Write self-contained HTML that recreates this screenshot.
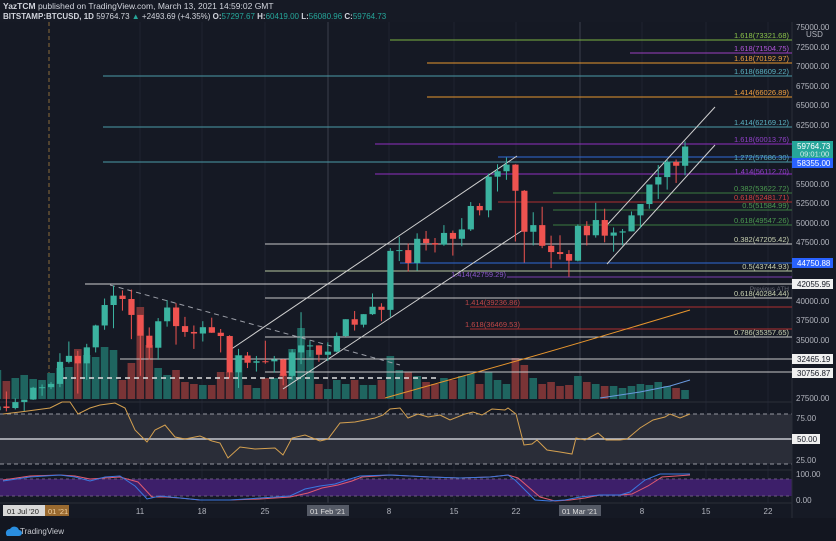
<!DOCTYPE html>
<html><head><meta charset="utf-8"><style>
body{margin:0;background:#161a25;width:836px;height:541px;overflow:hidden;font-family:"Liberation Sans",sans-serif}
svg{position:absolute;left:0;top:0}
</style></head><body>
<svg id="s" width="836" height="541" xmlns="http://www.w3.org/2000/svg" font-family="Liberation Sans, sans-serif">
<rect width="836" height="541" fill="#161a25"/>
<rect x="0" y="22" width="792" height="496" fill="#151924"/>
<!-- grid -->
<g stroke="#1f2330" stroke-width="1">
<line x1="140" y1="22" x2="140" y2="503"/><line x1="202" y1="22" x2="202" y2="503"/><line x1="265" y1="22" x2="265" y2="503"/><line x1="389" y1="22" x2="389" y2="503"/><line x1="454" y1="22" x2="454" y2="503"/><line x1="516" y1="22" x2="516" y2="503"/><line x1="642" y1="22" x2="642" y2="503"/><line x1="706" y1="22" x2="706" y2="503"/><line x1="768" y1="22" x2="768" y2="503"/>
</g>
<line x1="328" y1="22" x2="328" y2="503" stroke="#3a3f4c"/>
<line x1="580" y1="22" x2="580" y2="503" stroke="#3a3f4c"/>
<line x1="49" y1="22" x2="49" y2="400" stroke="#8a6a3a" stroke-dasharray="4,3"/>
<!-- panels -->
<line x1="0" y1="402" x2="792" y2="402" stroke="#2a2e39"/>
<rect x="0" y="414" width="792" height="50" fill="#2a2d38"/>
<line x1="0" y1="414" x2="792" y2="414" stroke="#9598a1" stroke-dasharray="4,3"/>
<line x1="0" y1="464" x2="792" y2="464" stroke="#9598a1" stroke-dasharray="4,3"/>
<line x1="0" y1="439" x2="792" y2="439" stroke="#c8cad0" stroke-width="1.5"/>
<line x1="0" y1="470" x2="792" y2="470" stroke="#2a2e39"/>
<rect x="0" y="479" width="792" height="17" fill="#3d1f6a"/>
<line x1="0" y1="479" x2="792" y2="479" stroke="#6a5a80" stroke-dasharray="3,3"/>
<line x1="0" y1="496" x2="792" y2="496" stroke="#6a5a80" stroke-dasharray="3,3"/>
<line x1="0" y1="503" x2="792" y2="503" stroke="#2a2e39"/>
<line x1="792" y1="22" x2="792" y2="518" stroke="#2a2e39"/>
<rect x="0" y="518" width="836" height="23" fill="#131620"/>
<g id="vol"></g>
<!-- horizontal levels -->
<g stroke-width="1">
<line x1="390" y1="40" x2="792" y2="40" stroke="#7cb342"/>
<line x1="630" y1="53" x2="792" y2="53" stroke="#9c3fc0"/>
<line x1="427" y1="63" x2="792" y2="63" stroke="#e8962e"/>
<line x1="103" y1="76" x2="792" y2="76" stroke="#4a9aa8"/>
<line x1="427" y1="97" x2="792" y2="97" stroke="#e8962e"/>
<line x1="103" y1="127" x2="792" y2="127" stroke="#4a9aa8"/>
<line x1="375" y1="144" x2="792" y2="144" stroke="#8e2fc0"/>
<line x1="498" y1="157" x2="792" y2="157" stroke="#2e6ad8"/>
<line x1="103" y1="162" x2="792" y2="162" stroke="#4a9aa8"/>
<line x1="375" y1="174" x2="792" y2="174" stroke="#8e2fc0"/>
<line x1="553" y1="193" x2="792" y2="193" stroke="#3c7a40"/>
<line x1="498" y1="202" x2="792" y2="202" stroke="#b03030"/>
<line x1="553" y1="210" x2="792" y2="210" stroke="#3c7a40"/>
<line x1="553" y1="225" x2="792" y2="225" stroke="#3c7a40"/>
<line x1="265" y1="244" x2="792" y2="244" stroke="#c8c8c8"/>
<line x1="400" y1="263" x2="792" y2="263" stroke="#2e6ad8"/>
<line x1="265" y1="271" x2="792" y2="271" stroke="#b8c8a0"/>
<line x1="507" y1="277" x2="792" y2="277" stroke="#7a3fb0"/>
<line x1="85" y1="284" x2="792" y2="284" stroke="#d0d0d0"/>
<line x1="265" y1="298" x2="792" y2="298" stroke="#c8c8c8"/>
<line x1="470" y1="307" x2="792" y2="307" stroke="#b03030"/>
<line x1="470" y1="329" x2="792" y2="329" stroke="#b03030"/>
<line x1="265" y1="337" x2="792" y2="337" stroke="#c8c8c8"/>
<line x1="120" y1="359" x2="792" y2="359" stroke="#c8c8c8"/>
<line x1="265" y1="372" x2="792" y2="372" stroke="#c8c8c8"/>
<line x1="62" y1="378" x2="440" y2="378" stroke="#e0e0e0" stroke-width="1.5" stroke-dasharray="5,4"/>
</g>
<!-- trend lines -->
<g stroke="#d0d0d0" stroke-width="1" fill="none">
<line x1="230" y1="350" x2="517" y2="156"/>
<line x1="283" y1="389" x2="523" y2="230"/>
<line x1="607" y1="225" x2="715" y2="107"/>
<line x1="607" y1="264" x2="715" y2="145"/>
<line x1="110" y1="285" x2="400" y2="365" stroke="#9a9da6" stroke-dasharray="5,4"/>
</g>
<path d="M385 398 Q450 380 520 360 T690 310" stroke="#e8962e" fill="none" stroke-width="1"/>
<polyline points="600,398 640,392 670,386 690,380" stroke="#6a9ae0" fill="none"/>
<g id="cnd"></g>
<!-- fib labels -->
<g font-size="7.5" text-anchor="end">
<text x="789" y="38" fill="#8bc34a">1.618(73321.68)</text>
<text x="789" y="51" fill="#b055d8">1.618(71504.75)</text>
<text x="789" y="61" fill="#f0a040">1.618(70192.97)</text>
<text x="789" y="74" fill="#5ab0c0">1.618(68609.22)</text>
<text x="789" y="95" fill="#f0a040">1.414(66026.89)</text>
<text x="789" y="125" fill="#5ab0c0">1.414(62169.12)</text>
<text x="789" y="142" fill="#9040c8">1.618(60013.76)</text>
<text x="789" y="160" fill="#5ab0c0">1.272(57686.30)</text>
<text x="789" y="174" fill="#9040c8">1.414(56112.70)</text>
<text x="789" y="191" fill="#4c9a50">0.382(53622.72)</text>
<text x="789" y="200" fill="#d04040">0.618(52481.71)</text>
<text x="789" y="208" fill="#4c9a50">0.5(51584.99)</text>
<text x="789" y="223" fill="#4c9a50">0.618(49547.26)</text>
<text x="789" y="242" fill="#c8d0b0">0.382(47205.42)</text>
<text x="789" y="269" fill="#c8d0b0">0.5(43744.93)</text>
<text x="789" y="291" fill="#6a6d78" font-size="6.5">Previous ATH</text>
<text x="789" y="296" fill="#c8d0b0">0.618(40284.44)</text>
<text x="789" y="335" fill="#c8d0b0">0.786(35357.65)</text>
<text x="520" y="305" fill="#c04848">1.414(39236.86)</text>
<text x="520" y="327" fill="#c04848">1.618(36469.53)</text>
<text x="506" y="277" fill="#8a55c8">1.414(42759.29)</text>
</g>
<!-- RSI -->
<polyline fill="none" stroke="#d4a050" stroke-width="1" points="3,414 20,412 50,408 62,402 70,402 78,414 90,408 100,405 115,403 125,408 135,430 147,442 155,430 165,425 175,437 185,439 200,436 212,441 220,443 228,458 240,447 255,449 275,448 283,455 292,438 305,435 320,441 328,439 340,423 355,422 365,420 375,418 383,415 390,409 400,408 408,418 418,414 428,417 440,415 450,420 465,414 473,412 482,415 492,409 505,410 508,408 516,414 524,445 532,444 537,440 547,450 560,452 572,454 576,438 585,440 598,433 606,440 620,440 627,439 640,428 653,420 665,417 670,414 680,418 690,414"/>
<polyline fill="none" stroke="#e05a70" stroke-width="1" points="3,480 30,476 60,475 75,476 90,479 105,478 120,477 138,482 152,497 165,497 180,498 200,500 230,500 260,499 290,497 308,493 322,488 338,485 352,481 362,477 390,475 430,477 460,478 490,477 508,475 518,478 540,497 555,501 570,500 585,498 600,495 620,495 632,494 648,486 662,477 690,475"/>
<polyline fill="none" stroke="#3a78e0" stroke-width="1" points="3,481 30,477 60,475 75,477 90,481 105,477 120,476 135,486 147,499 160,496 180,498 200,500 230,500 260,498 290,496 305,489 320,486 335,484 350,479 360,476 390,475 430,477 460,478 490,477 508,475 515,480 535,500 550,501 565,500 580,497 600,495 620,495 630,492 645,480 660,474 690,474"/>
<!-- right axis -->
<g font-size="8" fill="#b2b5be">
<text x="796" y="30">75000.00</text>
<text x="806" y="37">USD</text>
<text x="796" y="50">72500.00</text>
<text x="796" y="69">70000.00</text>
<text x="796" y="89">67500.00</text>
<text x="796" y="108">65000.00</text>
<text x="796" y="128">62500.00</text>
<text x="796" y="187">55000.00</text>
<text x="796" y="206">52500.00</text>
<text x="796" y="226">50000.00</text>
<text x="796" y="245">47500.00</text>
<text x="796" y="304">40000.00</text>
<text x="796" y="323">37500.00</text>
<text x="796" y="343">35000.00</text>
<text x="796" y="401">27500.00</text>
<text x="796" y="421">75.00</text>
<text x="796" y="463">25.00</text>
<text x="796" y="477">100.00</text>
<text x="796" y="503">0.00</text>
</g>
<rect x="792" y="141" width="41" height="17" fill="#26a69a"/>
<text x="797" y="149" font-size="8" fill="#fff">59764.73</text>
<text x="800" y="156.5" font-size="7.5" fill="#d8f0ec">09:01:00</text>
<rect x="792" y="158" width="41" height="10" fill="#2962ff"/>
<text x="797" y="166" font-size="8" fill="#fff">58355.00</text>
<rect x="792" y="258" width="41" height="10" fill="#2962ff"/>
<text x="797" y="266" font-size="8" fill="#fff">44750.88</text>
<g font-size="8" fill="#131722">
<rect x="792" y="279" width="41" height="10" fill="#f0f0f0"/><text x="797" y="287">42055.95</text>
<rect x="792" y="354" width="41" height="10" fill="#f0f0f0"/><text x="797" y="362">32465.19</text>
<rect x="792" y="368" width="41" height="10" fill="#f0f0f0"/><text x="797" y="376">30756.87</text>
<rect x="792" y="434" width="28" height="10" fill="#f0f0f0"/><text x="797" y="442">50.00</text>
</g>
<!-- date axis -->
<g font-size="8" fill="#b2b5be" text-anchor="middle">
<text x="140" y="514">11</text><text x="202" y="514">18</text><text x="265" y="514">25</text><text x="389" y="514">8</text><text x="454" y="514">15</text><text x="516" y="514">22</text><text x="642" y="514">8</text><text x="706" y="514">15</text><text x="768" y="514">22</text>
</g>
<rect x="3" y="505" width="42" height="11" fill="#d8d8d8"/>
<text x="7" y="514" font-size="7.5" fill="#222">01 Jul '20</text>
<rect x="45" y="505" width="24" height="11" fill="#9a6a30"/>
<text x="48" y="514" font-size="7.5" fill="#f0d0a0">01 '21</text>
<rect x="307" y="505" width="42" height="11" fill="#555a66"/>
<text x="310" y="514" font-size="7.5" fill="#ddd">01 Feb '21</text>
<rect x="559" y="505" width="42" height="11" fill="#555a66"/>
<text x="562" y="514" font-size="7.5" fill="#ddd">01 Mar '21</text>
<!-- footer -->
<path d="M6 534 a4 4 0 0 1 4-5 a5 5 0 0 1 9 1 a3 3 0 0 1 0 6 h-12 a3 3 0 0 1 -1 -2z" fill="#2a8ee0"/>
<text x="20" y="534" font-size="8" fill="#c8cad0">TradingView</text>
<!-- header -->
<text x="3" y="9" font-size="8.5" fill="#d1d4dc"><tspan font-weight="bold">YazTCM</tspan> published on TradingView.com, March 13, 2021 14:59:02 GMT</text>
<text x="3" y="19" font-size="8" fill="#d1d4dc"><tspan font-weight="bold">BITSTAMP:BTCUSD, 1D</tspan> 59764.73 <tspan fill="#26a69a">▲</tspan> +2493.69 (+4.35%) <tspan font-weight="bold">O:</tspan><tspan fill="#26a69a">57297.67</tspan> <tspan font-weight="bold">H:</tspan><tspan fill="#26a69a">60419.00</tspan> <tspan font-weight="bold">L:</tspan><tspan fill="#26a69a">56080.96</tspan> <tspan font-weight="bold">C:</tspan><tspan fill="#26a69a">59764.73</tspan></text>
</svg>
<script>
var D=[[26000,26600,25500,26480],[26480,28400,25850,26280],[26280,27500,26100,27040],[27040,27370,25880,27370],[27370,28990,27320,28880],[28880,29300,27850,28950],[28950,29600,28700,29370],[29370,33300,28950,32190],[32190,34800,32000,32960],[32960,33600,28130,32000],[32000,34500,29900,34050],[34050,36950,33400,36850],[36850,40300,36300,39470],[39470,41950,36500,40670],[40670,41350,38750,40240],[40240,41450,35100,38200],[38200,38200,30400,35540],[35540,36600,32500,34000],[34000,37800,32450,37390],[37390,40100,36700,39150],[39150,39700,34400,36770],[36770,37950,35400,36020],[36020,36850,33850,35820],[35820,37400,34800,36630],[36630,37850,35900,35920],[35920,36400,33400,35500],[35500,35600,30070,30850],[30850,33850,28850,33000],[33000,33450,31400,32080],[32080,32950,30950,32270],[32270,34900,31950,32260],[32260,32950,30800,32500],[32500,32550,29200,30400],[30400,33800,29900,33400],[33400,38550,31900,34300],[34300,34900,32850,34300],[34300,34300,32200,33100],[33100,34700,32300,33500],[33500,35950,33400,35500],[35500,37650,35400,37650],[37650,38700,36200,36950],[36950,38300,36600,38300],[38300,40950,38200,39250],[39250,39700,37400,38850],[38850,46750,37950,46400],[46400,48200,45100,46500],[46500,47350,43750,44850],[44850,48650,43850,47950],[47950,48950,46450,47400],[47400,48050,46200,47200],[47200,49700,47050,48700],[48700,49000,45800,47950],[47950,50600,47000,49150],[49150,52650,48950,52150],[52150,52500,50950,51600],[51600,56300,50700,55900],[55900,57500,54000,56600],[56600,58350,55500,57450],[57450,57500,47600,54100],[54100,54200,44900,48850],[48850,51350,47100,49700],[49700,52050,46750,47050],[47050,48350,44200,46250],[46250,48400,45300,46000],[46000,46500,43100,45150],[45150,49800,45050,49600],[49600,50200,47100,48400],[48400,52550,48100,50350],[50350,51800,47500,48350],[48350,49400,46300,48750],[48750,49200,47100,48900],[48900,51450,48900,50950],[50950,52400,49300,52400],[52400,54900,51800,54900],[54900,57400,53050,55850],[55850,58050,54250,57800],[57800,58100,55100,57300],[57300,60420,56080,59765]];
var V=[370,381,378,375,379,380,373,368,367,349,355,357,347,350,380,363,307,345,368,375,370,382,384,385,385,372,372,355,385,388,378,378,374,349,328,350,384,389,380,384,380,385,385,380,356,370,372,376,382,384,378,380,376,374,384,372,380,384,358,365,378,384,382,386,385,376,382,384,386,386,388,386,384,385,382,386,388,390];
function y(p){return 398.5-(p-27500)*0.00781}
var ns="http://www.w3.org/2000/svg",c="",v="";
for(var i=0;i<D.length;i++){var d=D[i],x=51+(i-6)*8.93,up=d[3]>=d[0];
var col=up?"#3bb3a0":"#ef5350",vc=up?"#1f6560":"#7a3436";
var t=y(Math.max(d[0],d[3])),b=y(Math.min(d[0],d[3]));if(b-t<1)b=t+1;
c+='<line x1="'+x+'" x2="'+x+'" y1="'+y(d[1])+'" y2="'+y(d[2])+'" stroke="'+col+'"/>';
c+='<rect x="'+(x-3)+'" y="'+t+'" width="6.2" height="'+(b-t)+'" fill="'+col+'"/>';
var vt=V[i]||385;v+='<rect x="'+(x-3.8)+'" y="'+vt+'" width="7.6" height="'+(399-vt)+'" fill="'+vc+'"/>';}
document.getElementById("cnd").innerHTML=c;document.getElementById("vol").innerHTML=v;
</script>
</body></html>
